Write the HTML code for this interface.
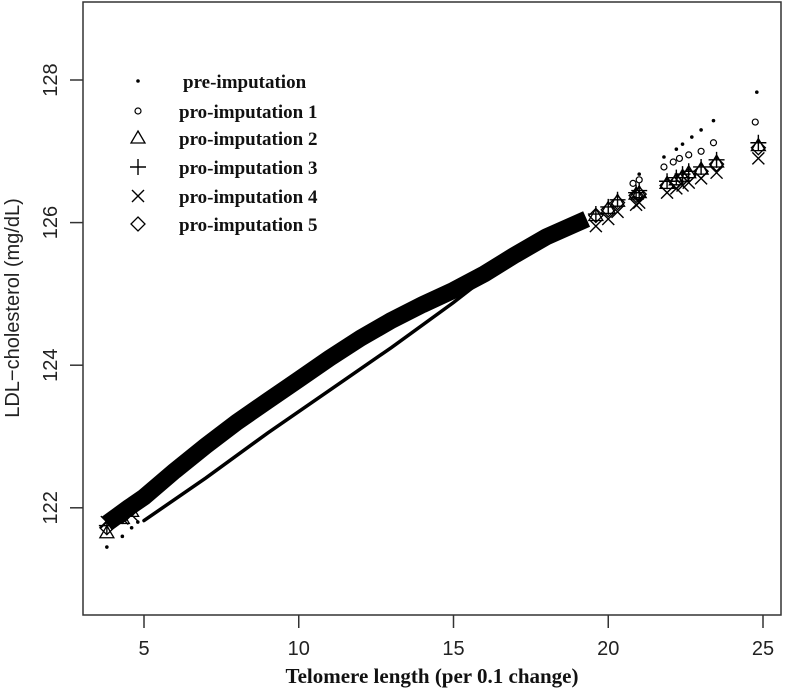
<!DOCTYPE html>
<html><head><meta charset="utf-8"><style>
body{margin:0;background:#fff}
svg{display:block}
.tk{font-family:"Liberation Sans",sans-serif;font-size:20px;fill:#222}
.lg{font-family:"Liberation Serif",serif;font-weight:bold;font-size:19px;fill:#111}
</style></head><body>
<svg id="chart" width="787" height="698" viewBox="0 0 787 698" xmlns="http://www.w3.org/2000/svg">
<rect x="83" y="2" width="698" height="613" fill="none" stroke="#333" stroke-width="1.5"/>
<g id="axes"></g>
<g id="marks"></g>
<g id="legend"></g>
<text x="432" y="683" text-anchor="middle" font-family="Liberation Serif,serif" font-weight="bold" font-size="21" fill="#111">Telomere length (per 0.1 change)</text>
<text transform="translate(19,308) rotate(-90)" text-anchor="middle" class="tk">LDL−cholesterol (mg/dL)</text>
</svg>
<script>
const xTicks=[5,10,15,20,25];
const yTicks=[122,124,126,128];
// imputed fitted band (centre)
const bandX=[3.8,4.5,5,6,7,8,9,10,11,12,13,14,15,16,17,18,19.3];
const bandY=[121.78,122.0,122.15,122.52,122.87,123.2,123.5,123.8,124.1,124.38,124.63,124.85,125.05,125.28,125.55,125.8,126.05];
// pre-imputation dense line
const preLineX=[5,7,9,11,13,15,15.95];
const preLineY=[121.82,122.42,123.05,123.65,124.25,124.88,125.2];
const preSparseX=[3.8,4.3,4.6,4.8,21.0,21.8,22.2,22.4,22.7,23.0,23.4,24.8];
const preSparseY=[121.45,121.6,121.72,121.8,126.68,126.92,127.03,127.1,127.2,127.3,127.43,127.83];
const p1X=[20.8,21.0,21.8,22.1,22.3,22.6,23.0,23.4,24.75];
const p1Y=[126.55,126.6,126.78,126.85,126.9,126.95,127.0,127.12,127.41];
const clusterX=[3.8,4.3,4.6,19.6,20.0,20.3,20.9,21.0,21.9,22.2,22.4,22.6,23.0,23.5,24.85];
const s2Y=[121.65,121.85,121.95,126.1,126.2,126.3,126.4,126.42,126.55,126.6,126.65,126.7,126.75,126.85,127.08];
const s3Y=[121.75,121.9,122.0,126.12,126.22,126.32,126.42,126.45,126.58,126.63,126.68,126.72,126.78,126.88,127.12];
const s4Y=[121.8,121.85,121.9,125.95,126.05,126.15,126.25,126.28,126.42,126.48,126.52,126.56,126.62,126.7,126.9];
const s5Y=[121.72,121.88,121.98,126.1,126.18,126.28,126.38,126.4,126.52,126.57,126.62,126.66,126.72,126.82,127.05];
const legendLabels=["pre-imputation","pro-imputation 1","pro-imputation 2","pro-imputation 3","pro-imputation 4","pro-imputation 5"];

const NS="http://www.w3.org/2000/svg";
const px=x=>144+(x-5)*30.95;
const py=y=>80+(128-y)*71.3;
function mk(tag,attrs,parent){const e=document.createElementNS(NS,tag);for(const k in attrs)e.setAttribute(k,attrs[k]);parent.appendChild(e);return e;}
const axes=document.getElementById('axes'),marks=document.getElementById('marks'),leg=document.getElementById('legend');
xTicks.forEach(t=>{
  const l=mk('line',{x1:px(t),x2:px(t),y1:615,y2:628,stroke:'#333','stroke-width':1.5},axes);
  
  
  const tx=mk('text',{x:px(t),y:655,'text-anchor':'middle',class:'tk'},axes);tx.textContent=t;
  
  
});
yTicks.forEach(t=>{
  const l=mk('line',{x1:70,x2:83,y1:py(t),y2:py(t),stroke:'#333','stroke-width':1.5},axes);
  
  
  const tx=mk('text',{transform:`translate(57,${py(t)}) rotate(-90)`,'text-anchor':'middle',class:'tk'},axes);tx.textContent=t;
  
  
});
function poly(X,Y){return X.map((x,i)=>(i?'L':'M')+px(x).toFixed(1)+' '+py(Y[i]).toFixed(1)).join('');}
const band=mk('path',{d:poly(bandX,bandY),fill:'none',stroke:'#000','stroke-width':17,'stroke-linecap':'butt','stroke-linejoin':'round'},marks);


const pl=mk('path',{d:poly(preLineX,preLineY),fill:'none',stroke:'#000','stroke-width':3.5,'stroke-linecap':'round'},marks);


function sym(type,x,y,parent){
  let e;
  if(type==0)e=mk('circle',{cx:x,cy:y,r:1.8,fill:'#000'},parent);
  else if(type==1)e=mk('circle',{cx:x,cy:y,r:3,fill:'none',stroke:'#000','stroke-width':1.2},parent);
  else if(type==2)e=mk('path',{d:`M${x} ${y-7}L${x+7} ${y+5}L${x-7} ${y+5}Z`,fill:'none',stroke:'#000','stroke-width':1.3},parent);
  else if(type==3)e=mk('path',{d:`M${x-8} ${y}H${x+8}M${x} ${y-8}V${y+8}`,stroke:'#000','stroke-width':1.4},parent);
  else if(type==4)e=mk('path',{d:`M${x-6} ${y-6}L${x+6} ${y+6}M${x+6} ${y-6}L${x-6} ${y+6}`,stroke:'#000','stroke-width':1.4},parent);
  else e=mk('path',{d:`M${x} ${y-7}L${x+7} ${y}L${x} ${y+7}L${x-7} ${y}Z`,fill:'none',stroke:'#000','stroke-width':1.3},parent);
  return e;
}
const series=[[clusterX,s2Y,2],[clusterX,s3Y,3],[clusterX,s4Y,4],[clusterX,s5Y,5]];
series.forEach(([X,Y,t])=>X.forEach((x,i)=>{
  const e=sym(t,px(x),py(Y[i]),marks);
  
  
}));
p1X.forEach((x,i)=>{const e=sym(1,px(x),py(p1Y[i]),marks);
  
  });
preSparseX.forEach((x,i)=>{const e=sym(0,px(x),py(preSparseY[i]),marks);
  
  });
const rowsY=[82,112,139,168,197,225];
legendLabels.forEach((lab,i)=>{
  const s=sym(i,138,rowsY[i]-1,leg);
  
  
  const t=mk('text',{x:i==0?183:179,y:rowsY[i]+6,class:'lg'},leg);t.textContent=lab;
  
  
});
</script>
</body></html>
